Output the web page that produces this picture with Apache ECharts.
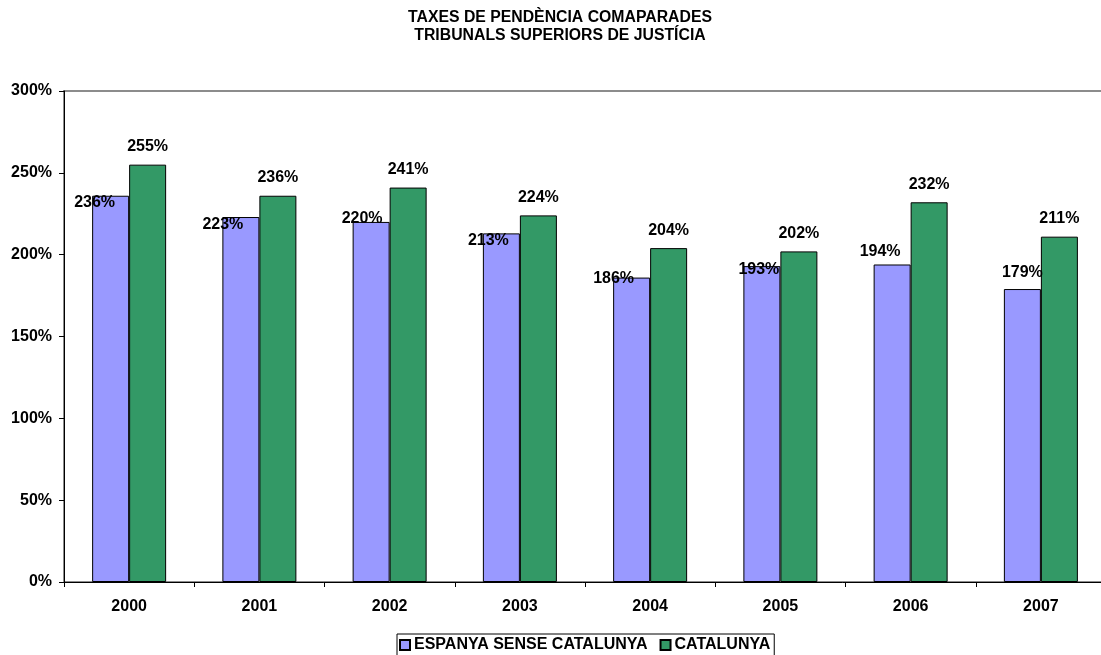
<!DOCTYPE html>
<html>
<head>
<meta charset="utf-8">
<script src="https://cdn.jsdelivr.net/npm/echarts@6/dist/echarts.min.js"></script>
<style>
  html, body { margin: 0; padding: 0; background: #fff; }
  #chart { width: 1101px; height: 655px; }
</style>
</head>
<body>
<div id="chart"></div>
<script>
const years = ['2000', '2001', '2002', '2003', '2004', '2005', '2006', '2007'];
const espanyaSenseCatalunya = [236, 223, 220, 213, 186, 193, 194, 179];
const catalunya = [255, 236, 241, 224, 204, 202, 232, 211];
const seriesNames = ['ESPANYA SENSE CATALUNYA', 'CATALUNYA'];
const titleText = 'TAXES DE PENDÈNCIA COMAPARADES\nTRIBUNALS SUPERIORS DE JUSTÍCIA';

// label placement tweaks (style only) for the first series, as in the original
const blueLabelShift = [[-16, 25], [-18, 26], [-9, 15], [-13, 25], [-18, 19], [-3, 21], [-12, 5], [0, 2]];

const FONT = '"Liberation Sans", Arial, sans-serif';

const chart = echarts.init(document.getElementById('chart'), null, { renderer: 'canvas' });
chart.setOption({
  backgroundColor: '#ffffff',
  animation: false,
  title: {
    text: titleText,
    left: 560,
    textAlign: 'center',
    top: 9,
    padding: 0,
    textStyle: { fontFamily: FONT, fontWeight: 'bold', fontSize: 15.8, lineHeight: 18, color: '#000' }
  },
  legend: {
    data: seriesNames,
    left: 397,
    top: 634,
    padding: [3, 4, 8, 2],
    borderColor: '#000',
    borderWidth: 1,
    itemGap: 12,
    itemWidth: 10,
    itemHeight: 10,
    icon: 'rect',
    textStyle: { fontFamily: FONT, fontWeight: 'bold', fontSize: 16, color: '#000', padding: [0, 0, 0, -1] }
  },
  grid: {
    left: 64, right: -5, top: 91, bottom: 73,
    outerBoundsMode: 'none',
    containLabel: false,
    show: true, borderColor: '#8c8c8c', borderWidth: 2, backgroundColor: 'transparent'
  },
  xAxis: {
    type: 'category',
    data: years,
    axisLine: { lineStyle: { color: '#000', width: 1 } },
    axisTick: { show: true, length: 5, interval: 0, lineStyle: { color: '#000' } },
    axisLabel: { margin: 17, fontFamily: FONT, fontWeight: 'bold', fontSize: 16, color: '#000' },
    splitLine: { show: false }
  },
  yAxis: {
    type: 'value',
    min: 0, max: 300, interval: 50,
    axisLine: { show: true, lineStyle: { color: '#000', width: 1 } },
    axisTick: { show: true, length: 5, lineStyle: { color: '#000' } },
    axisLabel: { margin: 12, formatter: '{value}%', fontFamily: FONT, fontWeight: 'bold', fontSize: 16, color: '#000' },
    splitLine: { show: false }
  },
  series: [
    {
      name: seriesNames[0],
      type: 'bar',
      barWidth: 37,
      barGap: '0%',
      itemStyle: { color: '#9999FF', borderColor: '#000', borderWidth: 1 },
      data: espanyaSenseCatalunya.map((v, i) => ({
        value: v,
        label: { offset: blueLabelShift[i] }
      })),
      label: {
        show: true, position: 'top', distance: 10, formatter: '{c}%',
        fontFamily: FONT, fontWeight: 'bold', fontSize: 16, color: '#000'
      }
    },
    {
      name: seriesNames[1],
      type: 'bar',
      barWidth: 37,
      barGap: '0%',
      itemStyle: { color: '#339966', borderColor: '#000', borderWidth: 1 },
      data: catalunya,
      label: {
        show: true, position: 'top', distance: 10, formatter: '{c}%',
        fontFamily: FONT, fontWeight: 'bold', fontSize: 16, color: '#000'
      }
    }
  ]
});
</script>
</body>
</html>
